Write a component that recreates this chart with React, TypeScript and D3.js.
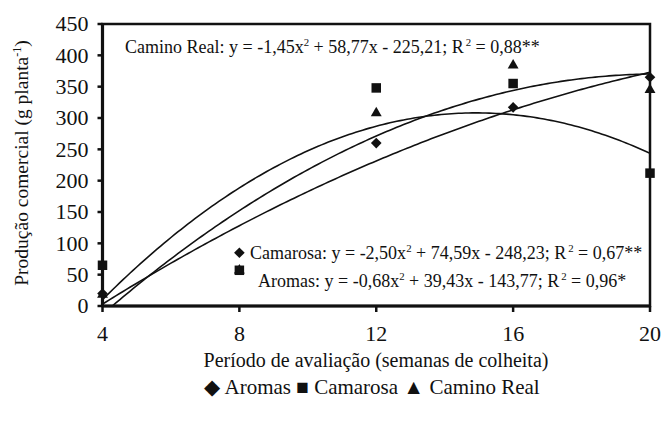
import React from "react";
import * as d3 from "d3";

const weeks = [4, 8, 12, 16, 20];
const aromas = [20, 85, 260, 317, 365];
const camarosa = [65, 57, 348, 355, 212];
const caminoReal = [18, 57, 308, 384, 345];

// quadratic fit coefficients [a, b, c] : y = a x^2 + b x + c
const fitAromas = [-0.68, 39.43, -143.77];
const fitCamarosa = [-2.5, 74.59, -248.23];
const fitCaminoReal = [-1.45, 58.77, -225.21];

const yTicks = [0, 50, 100, 150, 200, 250, 300, 350, 400, 450];
const xTicks = [4, 8, 12, 16, 20];

const W = 662;
const H = 421;
const L = 102.5;
const R = 650;
const T = 24;
const B = 306;

const x = d3.scaleLinear().domain([4, 20]).range([L, R]);
const y = d3.scaleLinear().domain([0, 450]).range([B, T]);

const font = "'Liberation Serif', 'Times New Roman', serif";

function curvePath(c: number[]) {
  const pts = d3.range(4, 20.001, 0.1).map((v) => [v, c[0] * v * v + c[1] * v + c[2]] as [number, number]);
  return d3
    .line<[number, number]>()
    .x((d) => x(d[0]))
    .y((d) => y(d[1]))(pts) as string;
}

const diamond = d3.symbol().type(d3.symbolDiamond2).size(72)();
const square = d3.symbol().type(d3.symbolSquare2).size(115)();
const triangle = d3.symbol().type(d3.symbolTriangle2).size(85)();

function Eq({ x0, yb, name, a, b, c, r2, fs }: any) {
  const sup = fs * 0.6;
  return (
    <text x={x0} y={yb} fontFamily={font} fontSize={fs} fill="#111">
      {`${name}: y = ${a}x`}
      <tspan fontSize={sup} dy={-fs * 0.38}>2</tspan>
      <tspan dy={fs * 0.38}>{` + ${b}x - ${c}; R`}</tspan>
      <tspan fontSize={sup} dy={-fs * 0.38} dx={2}>2</tspan>
      <tspan dy={fs * 0.38}>{` = ${r2}`}</tspan>
    </text>
  );
}

export default function App() {
  return (
    <svg width={W} height={H} style={{ position: "absolute", left: 0, top: 0, background: "#fff" }}>
      <defs>
        <clipPath id="plot">
          <rect x={L} y={T} width={R - L} height={B - T} />
        </clipPath>
      </defs>
      <rect width={W} height={H} fill="#fff" />
      {/* curves */}
      <g clipPath="url(#plot)" fill="none" stroke="#111" strokeWidth={1.6}>
        <path d={curvePath(fitAromas)} />
        <path d={curvePath(fitCamarosa)} />
        <path d={curvePath(fitCaminoReal)} />
      </g>
      {/* frame */}
      <rect x={L} y={T} width={R - L} height={B - T} fill="none" stroke="#111" strokeWidth={2.5} />
      <line x1={L} x2={L} y1={T} y2={B} stroke="#111" strokeWidth={3.2} />
      <line x1={L} x2={R} y1={B} y2={B} stroke="#111" strokeWidth={3.2} />
      {/* y ticks */}
      {yTicks.map((t) => (
        <g key={t}>
          <line x1={L - 5} x2={L} y1={y(t)} y2={y(t)} stroke="#111" strokeWidth={2.5} />
          <text x={L - 14} y={y(t)} dy="0.34em" textAnchor="end" fontFamily={font} fontSize={22} fill="#111">
            {t}
          </text>
        </g>
      ))}
      {/* x ticks */}
      {xTicks.map((t) => (
        <g key={t}>
          <line x1={x(t)} x2={x(t)} y1={B} y2={B + 6} stroke="#111" strokeWidth={2.5} />
          <text x={x(t)} y={341} textAnchor="middle" fontFamily={font} fontSize={22} fill="#111">
            {t}
          </text>
        </g>
      ))}
      {/* points */}
      {weeks.map((w, i) => (
        <path key={"t" + i} d={triangle} transform={`translate(${x(w)},${y(caminoReal[i])})`} fill="#111" />
      ))}
      {weeks.map((w, i) => (
        <path key={"s" + i} d={square} transform={`translate(${x(w)},${y(camarosa[i])})`} fill="#111" />
      ))}
      {weeks.map((w, i) => (
        <path key={"d" + i} d={diamond} transform={`translate(${x(w)},${y(aromas[i])})`} fill="#111" />
      ))}
      {/* equations */}
      <Eq x0={125} yb={53} name="Camino Real" a="-1,45" b="58,77" c="225,21" r2="0,88**" fs={18} />
      <Eq x0={250} yb={259} name="Camarosa" a="-2,50" b="74,59" c="248,23" r2="0,67**" fs={18} />
      <Eq x0={258} yb={287} name="Aromas" a="-0,68" b="39,43" c="143,77" r2="0,96*" fs={18} />
      {/* axis titles */}
      <text x={376} y={367} textAnchor="middle" fontFamily={font} fontSize={20} fill="#111">
        Período de avaliação (semanas de colheita)
      </text>
      <text transform="translate(28,163) rotate(-90)" textAnchor="middle" fontFamily={font} fontSize={19.5} fill="#111">
        Produção comercial (g planta
        <tspan fontSize={12} dy={-7}>-1</tspan>
        <tspan dy={7}>)</tspan>
      </text>
      {/* legend */}
      <text x={372} y={394} textAnchor="middle" fontFamily={font} fontSize={21} fill="#111">
        ◆ Aromas ■ Camarosa ▲ Camino Real
      </text>
    </svg>
  );
}
